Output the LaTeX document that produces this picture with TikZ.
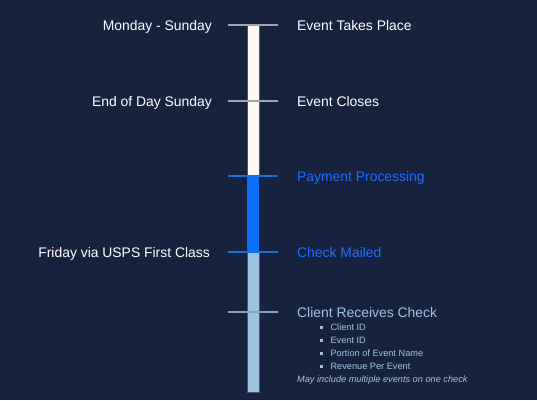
\documentclass[tikz,border=0pt]{standalone}
\usepackage{fontspec}
\setmainfont{Liberation Sans}
\usetikzlibrary{positioning,calc}
\definecolor{bg}{HTML}{17223F}
\definecolor{wht}{HTML}{FCF9F1}
\definecolor{blu}{HTML}{0A6EFF}
\definecolor{lblu}{HTML}{9DC3E1}
\definecolor{edge}{HTML}{4E586E}
\definecolor{tickg}{HTML}{A0A4AC}
\definecolor{tickb}{HTML}{1C6ED8}
\definecolor{txtb}{HTML}{1E6FFF}
\tikzset{
  seg/.style={draw=edge,line width=0.6pt},
  tick/.style={line width=1.2pt},
  lab/.style={inner sep=0pt,font=\fontsize{13.9}{16}\selectfont,text=white,text height=0.72em,text depth=0pt,yshift=-1.5pt},
  item/.style={inner sep=0pt,anchor=west,font=\fontsize{9.2}{11}\selectfont,text=lblu},
  note/.style={item,font=\fontsize{9.2}{11}\selectfont\itshape},
}
\newcommand{\sqb}{\rule[0.25ex]{2.8pt}{2.8pt}\hspace{7.6pt}}

\begin{document}
\begin{tikzpicture}[x=1pt,y=-1pt]
\fill[bg] (0,0) rectangle (537,400);
\useasboundingbox (0,0) rectangle (537,400);
% bar
\fill[wht,seg] (247,25) rectangle (259,176);
\fill[blu] (247,176) rectangle (259,252);
\fill[lblu,seg] (247,252) rectangle (259,392);
% tick marks
\coordinate (t1) at (253,25);
\coordinate (t2) at (253,101);
\coordinate (t3) at (253,176);
\coordinate (t4) at (253,252);
\coordinate (t5) at (253,312);
\draw[tick,tickg,line width=1.8pt] ($(t1)+(-25,0)$) -- ($(t1)+(25,0)$);
\draw[tick,tickg] ($(t2)+(-25,0)$) -- ($(t2)+(25,0)$);
\draw[tick,tickb] ($(t3)+(-25,0)$) -- ($(t3)+(25,0)$);
\draw[tick,tickb,line width=1.6pt] ($(t4)+(-25,0)$) -- ($(t4)+(25,0)$);
\draw[tick,lblu!80!bg] ($(t5)+(-25,0)$) -- ($(t5)+(25,0)$);
% right labels
\node[lab,right=44pt of t1] (e1) {Event Takes Place};
\node[lab,right=44pt of t2] (e2) {Event Closes};
\node[lab,right=44pt of t3,text=txtb] (e3) {Payment Processing};
\node[lab,right=44pt of t4,text=txtb] (e4) {Check Mailed};
\node[lab,right=44pt of t5,text=lblu] (e5) {Client Receives Check};
% left labels
\node[lab,left=41pt of t1] (w1) {Monday - Sunday};
\node[lab,left=41pt of t2] (w2) {End of Day Sunday};
\node[lab,left=43pt of t4] (w4) {Friday via USPS First Class};
% check details
\node[item] (i1) at (320,327) {\sqb Client ID};
\node[item] (i2) at (320,340) {\sqb Event ID};
\node[item] (i3) at (320,353) {\sqb Portion of Event Name};
\node[item] (i4) at (320,366) {\sqb Revenue Per Event};
\node[note] (n1) at (297,380) {May include multiple events on one check};
\end{tikzpicture}
\end{document}
